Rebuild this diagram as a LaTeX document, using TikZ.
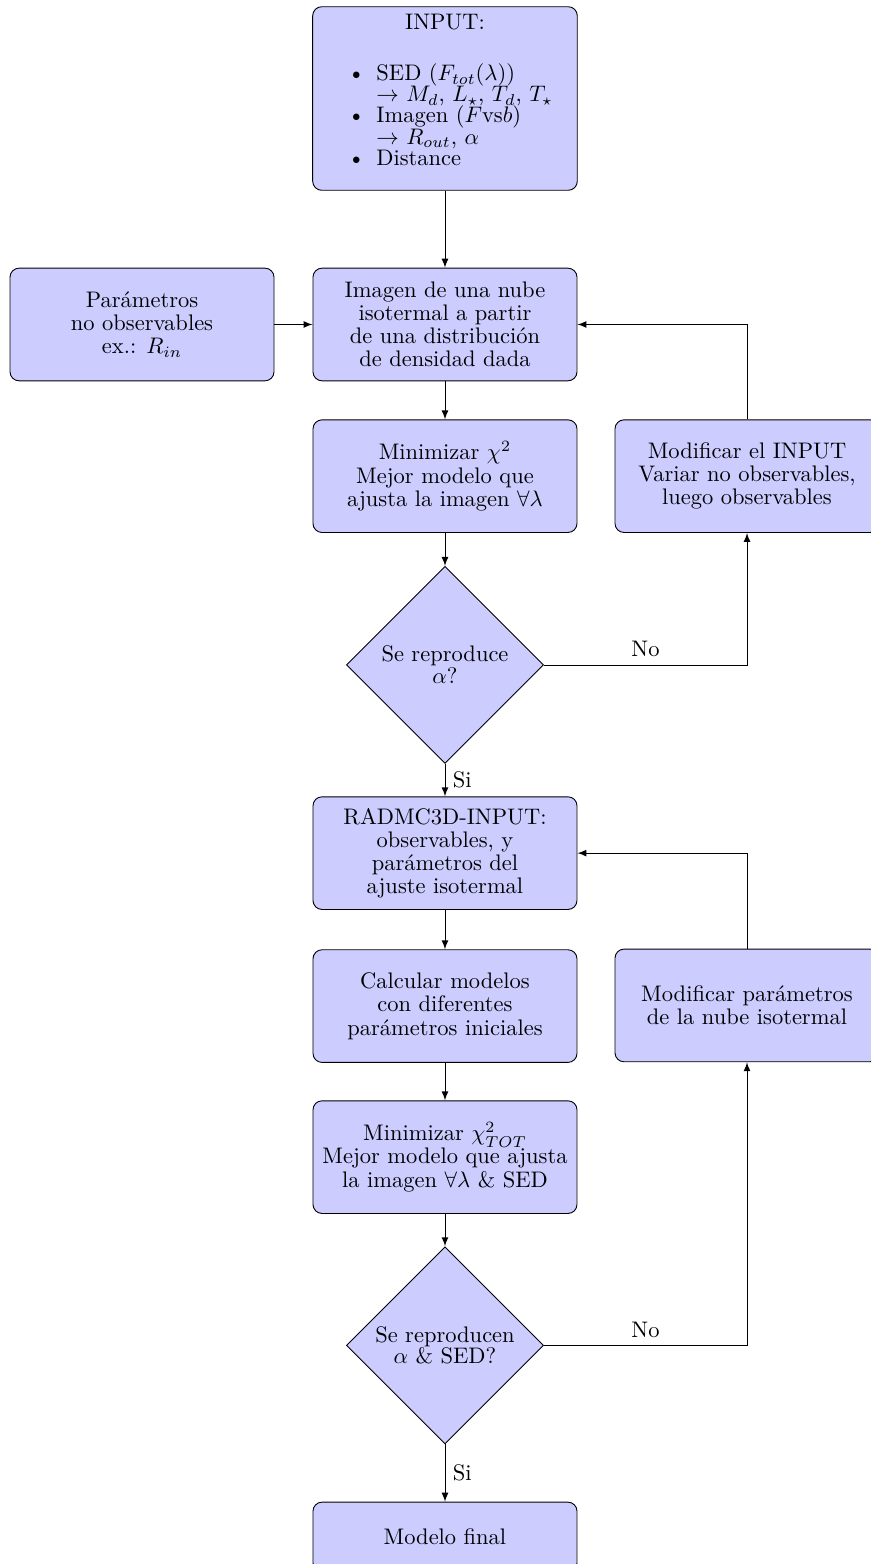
\documentclass[tikz,border=0pt]{standalone}
\usetikzlibrary{shapes.geometric}
\begin{document}
\begin{tikzpicture}[>=latex,
        box/.style={draw, fill=blue!20, rounded corners, inner sep=0.3333em, minimum width=4.125cm, minimum height=1.76cm, font=\fontsize{10}{10.3}\selectfont},
        block/.style={box, align=center},
        decision/.style={draw, fill=blue!20, diamond, aspect=1, align=center, inner sep=0pt, minimum width=3.08cm, minimum height=3.08cm, font=\fontsize{10}{9.7}\selectfont}]
        \useasboundingbox (0,0) rectangle (13.609,-24.4375);
        \node[box, text width=3.9cm, minimum height=0pt, font=\fontsize{10}{9.4}\selectfont] (input) at (6.953,-1.539) {%
            \lineskiplimit=-10pt
            {\centering INPUT:\par}
            \kern3.3pt
            \begin{itemize}\setlength{\itemsep}{0pt}\setlength{\parskip}{0pt}\setlength{\parsep}{0pt}
                \item SED ($F_{tot}(\lambda)$)\\ $\rightarrow$ $M_d$, $L_\star$, $T_d$, $T_\star$
                \item Imagen ($F$vs$b$)\\ $\rightarrow$ $R_{out}$, $\alpha$
                \item Distance
            \end{itemize}
            \kern-2.3pt};
        \node[block] (imagen) at (6.953,-5.07) {Imagen de una nube\\ isotermal a partir\\ de una distribución\\ de densidad dada};
        \node[block] (param) at (2.219,-5.07) {Parámetros\\ no observables\\ ex.: $R_{in}$};
        \node[block] (min1) at (6.953,-7.44) {Minimizar $\chi^2$\\ Mejor modelo que\\ ajusta la imagen $\forall\lambda$};
        \node[block] (mod1) at (11.672,-7.44) {Modificar el INPUT\\ Variar no observables,\\ luego observables};
        \node[decision] (dec1) at (6.953,-10.39) {Se reproduce\\ $\alpha$?};
        \node[block] (radmc) at (6.953,-13.33) {RADMC3D-INPUT:\\ observables, y\\ parámetros del\\ ajuste isotermal};
        \node[block] (calc) at (6.953,-15.72) {Calcular modelos\\ con diferentes\\ parámetros iniciales};
        \node[block] (mod2) at (11.672,-15.71) {Modificar parámetros\\ de la nube isotermal};
        \node[block] (min2) at (6.953,-18.08) {Minimizar $\chi^2_{TOT}$\\ Mejor modelo que ajusta\\ la imagen $\forall\lambda$ \& SED};
        \node[decision] (dec2) at (6.953,-21.02) {Se reproducen\\ $\alpha$ \& SED?};
        \node[block, minimum height=1.09cm] (final) at (6.953,-24.016) {Modelo final};
        \draw[->] (input) -- (imagen);
        \draw[->] (param) -- (imagen);
        \draw[->] (mod1.north) |- (imagen.east);
        \draw[->] (imagen) -- (min1);
        \draw[->] (min1) -- (dec1);
        \draw[->] (dec1.east) -| node[pos=0.25, above] {No} (mod1.south);
        \draw[->] (dec1) -- node[right] {Si} (radmc);
        \draw[->] (mod2.north) |- (radmc.east);
        \draw[->] (radmc) -- (calc);
        \draw[->] (calc) -- (min2);
        \draw[->] (min2) -- (dec2);
        \draw[->] (dec2.east) -| node[pos=0.25, above] {No} (mod2.south);
        \draw[->] (dec2) -- node[right] {Si} (final);
    \end{tikzpicture}
\end{document}
